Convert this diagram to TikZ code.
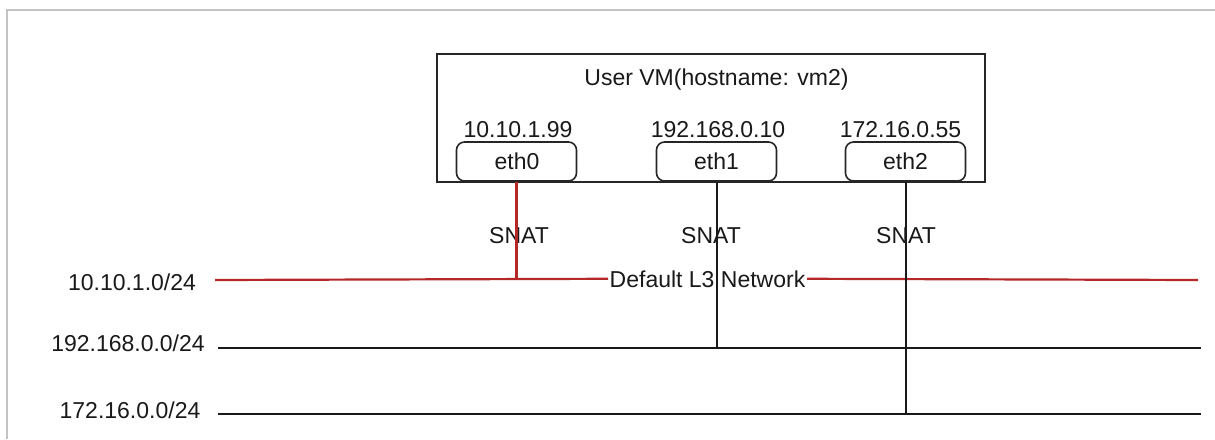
\documentclass[tikz,border=0pt]{standalone}
\usepackage{fontspec}
\setmainfont{Liberation Sans}
\definecolor{netred}{RGB}{180,40,40}
\definecolor{framegray}{RGB}{195,195,195}
\definecolor{txtgray}{RGB}{25,25,25}
\begin{document}
\begin{tikzpicture}[x=1pt,y=-1pt,
  font=\fontsize{23}{27}\selectfont,
  txt/.style={inner sep=0pt, text=txtgray, anchor=base},
  vmbox/.style={draw=black!85, line width=1.8pt, inner sep=0pt, anchor=north west},
  ethbox/.style={draw=black!85, line width=1.6pt, rounded corners=8pt, minimum width=120pt, minimum height=39pt, inner sep=0pt},
  blackline/.style={draw=black!90, line width=2.2pt},
  redline/.style={draw=netred, line width=2.2pt},
  framel/.style={draw=framegray, line width=2.5pt}]
\useasboundingbox (0,0) rectangle (1215,439);
\draw[framel] (7,439) -- (7,10) -- (1215,10);

% VM box
\node[vmbox, minimum width=548pt, minimum height=128pt] (vm) at (436,53) {};
\node[txt] (title) at (716.5,85) {User VM(hostname: vm2)};

% interfaces
\node[ethbox] (eth0) at (516.5,161.5) {};
\node[ethbox] (eth1) at (716.5,161.5) {};
\node[ethbox] (eth2) at (905.5,161.5) {};
\node[txt] (t0) at (517,169) {eth0};
\node[txt] (t1) at (716.5,169) {eth1};
\node[txt] (t2) at (905.5,169) {eth2};
\node[txt] (ip0) at (518,137) {10.10.1.99};
\node[txt] (ip1) at (718,137) {192.168.0.10};
\node[txt] (ip2) at (900.5,137) {172.16.0.55};

% SNAT labels
\node[txt] (s0) at (519,243) {SNAT};
\node[txt] (s1) at (711,243) {SNAT};
\node[txt] (s2) at (906,243) {SNAT};

% network labels
\node[txt] (l1) at (132,290) {10.10.1.0/24};
\node[txt] (l2) at (128,351) {192.168.0.0/24};
\node[txt] (l3) at (130,418) {172.16.0.0/24};

% network line end points
\coordinate (n1w) at (215,280);
\coordinate (n1e) at (1198,280);
\coordinate (n2w) at (218,348);
\coordinate (n2e) at (1201,348);
\coordinate (n3w) at (218,414);
\coordinate (n3e) at (1201,414);

% Default L3 network label on red line
\node[txt, fill=white, inner xsep=1.5pt, inner ysep=1pt] (dl) at (707.5,287) {Default L3 Network};

% lines
\draw[redline] (n1w) -- (dl.west);
\draw[redline] (dl.east) -- (n1e);
\draw[blackline] (n2w) -- (n2e);
\draw[blackline] (n3w) -- (n3e);

% connectors
\draw[redline] (eth0.south) -- (eth0.south |- n1w);
\draw[blackline, line width=2pt] (eth1.south) -- (eth1.south |- n2w);
\draw[blackline, line width=2pt] (eth2.south) -- (eth2.south |- n3w);
\end{tikzpicture}
\end{document}
